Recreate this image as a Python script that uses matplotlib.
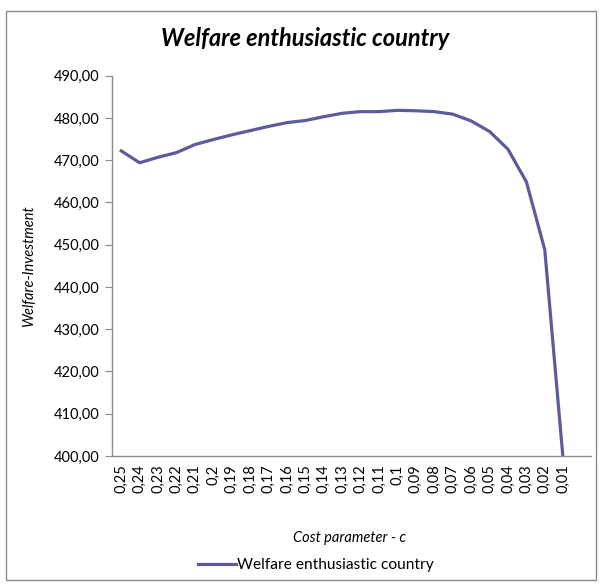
import matplotlib
matplotlib.use("Agg")
import matplotlib.pyplot as plt
from matplotlib.patches import Rectangle

plt.rcParams["font.family"] = ["Lato", "DejaVu Sans"]

# cost parameter categories, as shown on the x axis
cost_labels = ["0,25", "0,24", "0,23", "0,22", "0,21", "0,2", "0,19", "0,18",
               "0,17", "0,16", "0,15", "0,14", "0,13", "0,12", "0,11", "0,1",
               "0,09", "0,08", "0,07", "0,06", "0,05", "0,04", "0,03", "0,02",
               "0,01"]
welfare = [472.2, 469.4, 470.7, 471.8, 473.7, 474.9, 476.0, 477.0, 478.0,
           478.9, 479.4, 480.3, 481.1, 481.5, 481.5, 481.8, 481.7, 481.5,
           480.9, 479.3, 476.8, 472.6, 464.9, 448.8, 399.0]
y_ticks = [400, 410, 420, 430, 440, 450, 460, 470, 480, 490]

line_color = "#5c5c9c"
axis_color = "#8c8c8c"

fig = plt.figure(figsize=(6, 5.85), dpi=100)
ax = fig.add_axes([0.1867, 0.2205, 0.798, 0.6501])

x = list(range(len(cost_labels)))
ax.plot(x, welfare, color=line_color, linewidth=2.3, solid_joinstyle="round",
        label="Welfare enthusiastic country")

ax.set_xlim(-0.5, len(cost_labels) + 0.5)
ax.set_ylim(400, 490)
ax.set_yticks(y_ticks)
ax.set_yticklabels([f"{v:.2f}".replace(".", ",") for v in y_ticks], fontsize=10.5)
ax.set_xticks(x)
ax.set_xticklabels(cost_labels, rotation=90, fontsize=10.5)

for side in ["top", "right"]:
    ax.spines[side].set_visible(False)
for side in ["left", "bottom"]:
    ax.spines[side].set_color(axis_color)
    ax.spines[side].set_linewidth(1)
ax.tick_params(axis="y", direction="out", length=5, color=axis_color, pad=4)
ax.tick_params(axis="x", length=0, pad=6)

fig.text(0.508, 0.935, "Welfare enthusiastic country", ha="center", va="center",
         fontsize=17, fontweight="bold", fontstyle="italic")
fig.text(0.048, 0.545, "Welfare-Investment", rotation=90, ha="center", va="center",
         fontsize=10.5, fontstyle="italic")
fig.text(0.583, 0.08, "Cost parameter - c", ha="center", va="center",
         fontsize=10.5, fontstyle="italic")

fig.legend(loc="center", bbox_to_anchor=(0.527, 0.034), frameon=False,
           fontsize=11.2, handlelength=2.4, handletextpad=0.1)

fig.patches.append(Rectangle((0.01, 0.0085), 0.983, 0.9726, transform=fig.transFigure,
                             fill=False, edgecolor=axis_color, linewidth=1))

fig.savefig("out.png", dpi=100)
